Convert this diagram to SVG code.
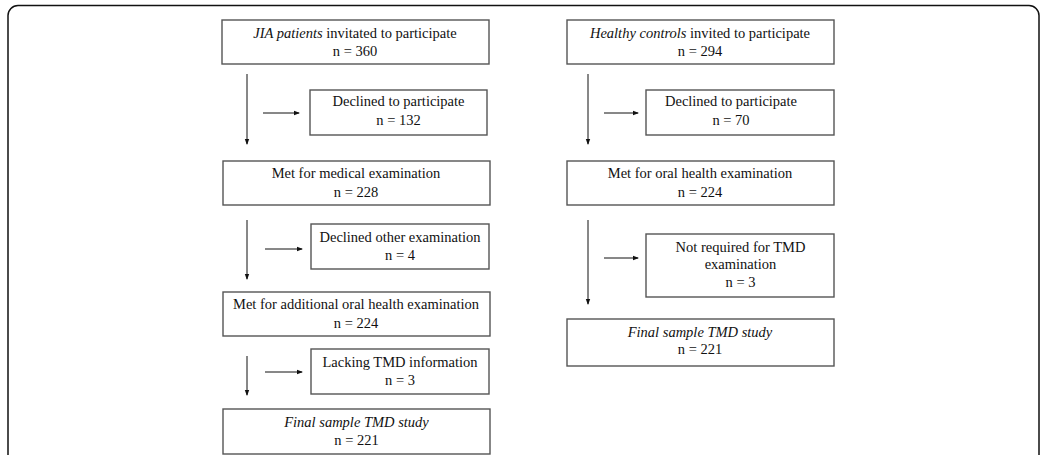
<svg xmlns="http://www.w3.org/2000/svg" width="1048" height="455" viewBox="0 0 1048 455">
<style>
.box{fill:#fff;stroke:#555;stroke-width:1.4}
text{font-family:"Liberation Serif","Times New Roman",serif;font-size:14.5px;fill:#111;text-anchor:middle}
.it{font-style:italic}
.con{stroke:#111;stroke-width:1;fill:none;marker-end:url(#ah)}
</style>
<defs>
<marker id="ah" viewBox="0 0 6 6" refX="5" refY="3" markerWidth="6" markerHeight="6" markerUnits="userSpaceOnUse" orient="auto">
<path d="M0,0.8 L6,3 L0,5.2 Z" fill="#111"/>
</marker>
</defs>
<rect x="8" y="5.5" width="1031" height="480" rx="10" fill="#fff" stroke="#111" stroke-width="1.5"/>
<g id="connectors">
<line class="con" x1="247" y1="74" x2="247" y2="144"/>
<line class="con" x1="263" y1="113" x2="299" y2="113"/>
<line class="con" x1="247" y1="220" x2="247" y2="279"/>
<line class="con" x1="265" y1="249" x2="302" y2="249"/>
<line class="con" x1="247" y1="356" x2="247" y2="395"/>
<line class="con" x1="265" y1="372" x2="302" y2="372"/>
<line class="con" x1="588" y1="74" x2="588" y2="144"/>
<line class="con" x1="604" y1="113" x2="638" y2="113"/>
<line class="con" x1="588" y1="220" x2="588" y2="304"/>
<line class="con" x1="604" y1="258" x2="638" y2="258"/>
</g>
<g id="jia_invited">
<rect class="box" x="222" y="20" width="267" height="44"/>
<text x="355" y="38"><tspan class="it">JIA patients</tspan> invitated to participate</text>
<text x="355" y="56">n = 360</text>
</g>
<g id="jia_declined">
<rect class="box" x="310" y="90" width="177" height="45"/>
<text x="398.5" y="106">Declined to participate</text>
<text x="398.5" y="125">n = 132</text>
</g>
<g id="jia_medical">
<rect class="box" x="223" y="161" width="267" height="44"/>
<text x="356" y="178">Met for medical examination</text>
<text x="356" y="197">n = 228</text>
</g>
<g id="jia_declined_other">
<rect class="box" x="311" y="224" width="178" height="45"/>
<text x="400" y="242">Declined other examination</text>
<text x="400" y="260">n = 4</text>
</g>
<g id="jia_oral">
<rect class="box" x="223" y="292" width="267" height="44"/>
<text x="356" y="309">Met for additional oral health examination</text>
<text x="356" y="328">n = 224</text>
</g>
<g id="jia_lacking">
<rect class="box" x="311" y="349" width="178" height="45"/>
<text x="400" y="367">Lacking TMD information</text>
<text x="400" y="385">n = 3</text>
</g>
<g id="jia_final">
<rect class="box" x="223" y="409" width="267" height="45"/>
<text x="356.5" y="427" class="it">Final sample TMD study</text>
<text x="356.5" y="445">n = 221</text>
</g>
<g id="hc_invited">
<rect class="box" x="567" y="20" width="267" height="44"/>
<text x="700" y="38"><tspan class="it">Healthy controls</tspan> invited to participate</text>
<text x="700" y="56">n = 294</text>
</g>
<g id="hc_declined">
<rect class="box" x="646" y="90" width="188" height="45"/>
<text x="731" y="106">Declined to participate</text>
<text x="731" y="125">n = 70</text>
</g>
<g id="hc_oral">
<rect class="box" x="567" y="161" width="267" height="44"/>
<text x="700" y="178">Met for oral health examination</text>
<text x="700" y="197">n = 224</text>
</g>
<g id="hc_not_required">
<rect class="box" x="646" y="234" width="188" height="63"/>
<text x="740.5" y="252">Not required for TMD</text>
<text x="740.5" y="269">examination</text>
<text x="740.5" y="287">n = 3</text>
</g>
<g id="hc_final">
<rect class="box" x="567" y="319" width="267" height="47"/>
<text x="700" y="337" class="it">Final sample TMD study</text>
<text x="700" y="354">n = 221</text>
</g>
</svg>
